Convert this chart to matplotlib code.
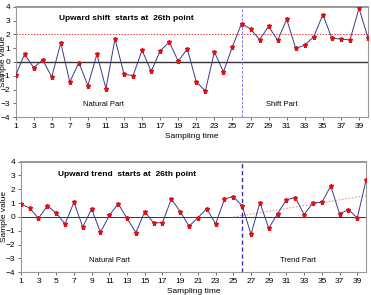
import matplotlib.pyplot as plt

plt.rcParams['font.family'] = ['Liberation Sans', 'DejaVu Sans']

x = list(range(1, 41))

shift_values = [-0.97, 0.56, -0.41, 0.15, -1.09, 1.38, -1.45, -0.05, -1.71, 0.56,
                -1.93, 1.67, -0.89, -0.99, 0.85, -0.68, 0.80, 1.45, 0.05, 0.94,
                -1.45, -2.10, 0.72, -0.72, 1.11, 2.78, 2.39, 1.62, 2.58, 1.57,
                3.09, 0.99, 1.21, 1.84, 3.43, 1.71, 1.67, 1.59, 3.89, 1.74]

trend_values = [0.94, 0.65, -0.10, 0.80, 0.29, -0.51, 1.06, -0.72, 0.58, -1.11,
                0.12, 0.96, -0.10, -1.13, 0.39, -0.43, -0.41, 1.30, 0.39, -0.67,
                -0.05, 0.60, -0.51, 1.30, 1.47, 0.80, -1.25, 1.04, -0.82, 0.24,
                1.25, 1.40, 0.17, 1.04, 1.06, 2.24, 0.22, 0.53, -0.07, 2.70]

shift_level = 2.0
change_point = 26
trend_x = [25, 40]
trend_y = [0.0, 1.55]

xticks = list(range(1, 41, 2))
yticks = list(range(-4, 5))

fig = plt.figure(figsize=(3.71, 2.95), dpi=100)
ax1 = fig.add_axes([0.042, 0.603, 0.950, 0.374])
ax2 = fig.add_axes([0.056, 0.077, 0.931, 0.375])


def style_axes(ax, ylab_x):
    ax.set_xlim(1, 40)
    ax.set_ylim(-4, 4)
    ax.set_xticks(xticks)
    ax.set_yticks(yticks)
    ax.tick_params(labelsize=6, length=2, width=0.6, color='#555555', pad=2)
    for s in ax.spines.values():
        s.set_color('#999999')
        s.set_linewidth(0.8)
    ax.spines['top'].set_linewidth(1.4)
    ax.set_xlabel('Sampling time', fontsize=6)
    ax.set_ylabel('Sample value', fontsize=6)
    ax.xaxis.set_label_coords(0.5, -0.14)
    ax.yaxis.set_label_coords(ylab_x, 0.5)
    ax.yaxis.label.set_va('center')


# top: shift
ax1.axhline(0, color='#333333', lw=1.0, zorder=1)
ax1.axhline(shift_level, color='#e04040', lw=0.7, ls=(0, (1.5, 1.5)), zorder=1)
ax1.axvline(change_point, color='#8080e0', lw=0.7, ls=(0, (3, 1.5)), zorder=1)
ax1.plot(x, shift_values, color='#3a3a8a', lw=0.7, marker='*', ms=3.6,
         mfc='#e01010', mec='#e01010', zorder=3)
style_axes(ax1, -0.034)
ax1.text(13.3, 3.15, 'Upward shift  starts at  26th point', fontsize=6,
         fontweight='bold', ha='center', va='center')
ax1.text(10.7, -3.1, 'Natural Part', fontsize=5.5, ha='center', va='center')
ax1.text(30.5, -3.1, 'Shift Part', fontsize=5.5, ha='center', va='center')

# bottom: trend
ax2.axhline(0, color='#333333', lw=0.7, zorder=1)
ax2.plot(trend_x, trend_y, color='#f090a0', lw=0.8, ls=(0, (1.5, 1.5)), zorder=1)
ax2.axvline(change_point, color='#3030b0', lw=1.0, ls=(0, (3, 2)), zorder=1)
ax2.plot(x, trend_values, color='#3a3a8a', lw=0.7, marker='*', ms=3.6,
         mfc='#e01010', mec='#e01010', zorder=3)
style_axes(ax2, -0.048)
ax2.text(13.0, 3.1, 'Upward trend  starts at  26th point', fontsize=6,
         fontweight='bold', ha='center', va='center')
ax2.text(11.0, -3.15, 'Natural Part', fontsize=5.5, ha='center', va='center')
ax2.text(32.3, -3.15, 'Trend Part', fontsize=5.5, ha='center', va='center')

fig.savefig('out.png', dpi=100)
